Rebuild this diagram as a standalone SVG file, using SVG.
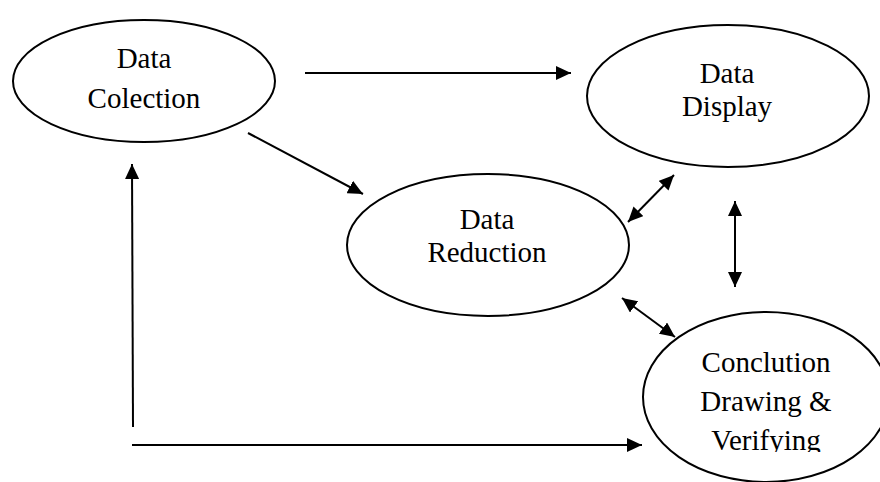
<svg xmlns="http://www.w3.org/2000/svg" width="880" height="482" viewBox="0 0 880 482">
  <style>
    .node ellipse { fill: #ffffff; stroke: #000000; stroke-width: 2; }
    .node text { font-family: "Liberation Serif", "Times New Roman", serif; font-size: 29px; fill: #000000; text-anchor: middle; }
    .conn line { stroke: #000000; stroke-width: 2; fill: none; }
  </style>
  <defs>
    <marker id="ah" viewBox="0 0 15 14" refX="15" refY="7" markerWidth="15" markerHeight="14" markerUnits="userSpaceOnUse" orient="auto-start-reverse">
      <path d="M0,0 L15,7 L0,14 z" fill="#000000"/>
    </marker>
    <clipPath id="clipConc">
      <rect x="0" y="0" width="880" height="452"/>
    </clipPath>
  </defs>
  <rect x="0" y="0" width="880" height="482" fill="#ffffff"/>

  <g id="node-collection" class="node">
    <ellipse cx="144" cy="81" rx="131" ry="61"/>
    <text x="144" y="68">Data</text>
    <text x="144" y="108">Colection</text>
  </g>

  <g id="node-display" class="node">
    <ellipse cx="728" cy="96" rx="141" ry="71"/>
    <text x="727" y="83">Data</text>
    <text x="727" y="116">Display</text>
  </g>

  <g id="node-reduction" class="node">
    <ellipse cx="488" cy="245" rx="141" ry="71"/>
    <text x="487" y="229">Data</text>
    <text x="487" y="262">Reduction</text>
  </g>

  <g id="node-conclusion" class="node">
    <ellipse cx="766" cy="397" rx="123" ry="85"/>
    <text x="766" y="372">Conclution</text>
    <text x="766" y="411">Drawing &amp;</text>
    <text x="766" y="450" clip-path="url(#clipConc)">Verifying</text>
  </g>

  <g id="connectors" class="conn">
    <line x1="305" y1="73" x2="571" y2="73" marker-end="url(#ah)"/>
    <line x1="248" y1="133" x2="363" y2="194" marker-end="url(#ah)"/>
    <line x1="133" y1="427" x2="132" y2="164" marker-end="url(#ah)"/>
    <line x1="132" y1="445" x2="642" y2="445" marker-end="url(#ah)"/>
    <line x1="628" y1="222" x2="674" y2="175" marker-start="url(#ah)" marker-end="url(#ah)"/>
    <line x1="735" y1="201" x2="735" y2="287" marker-start="url(#ah)" marker-end="url(#ah)"/>
    <line x1="622" y1="298" x2="675" y2="337" marker-start="url(#ah)" marker-end="url(#ah)"/>
  </g>
</svg>
